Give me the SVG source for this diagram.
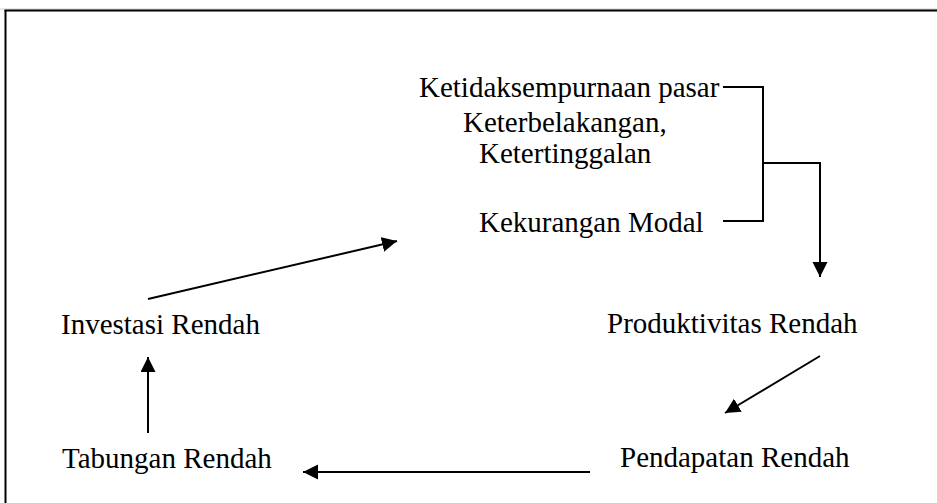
<svg xmlns="http://www.w3.org/2000/svg" width="937" height="504" viewBox="0 0 937 504">
<style>
text{font-family:"Liberation Serif","Times New Roman",serif;font-size:29px;fill:#000}
.c{stroke:#000;stroke-width:2;fill:none}
</style>
<defs>
<marker id="ah" markerUnits="userSpaceOnUse" markerWidth="16" markerHeight="16" refX="15" refY="7.5" orient="auto">
<path d="M0,0 L15,7.5 L0,15 z" fill="#000"/>
</marker>
</defs>
<rect width="937" height="504" fill="#fff"/>
<g id="frame">
<line x1="0" y1="9" x2="937" y2="9" stroke="#d0d0d0" stroke-width="1"/>
<line x1="0" y1="503.5" x2="937" y2="503.5" stroke="#d0d0d0" stroke-width="1"/>
<line x1="4.5" y1="10.5" x2="937" y2="10.5" stroke="#000" stroke-width="2"/>
<line x1="5.5" y1="10" x2="5.5" y2="503" stroke="#000" stroke-width="2"/>
</g>
<g id="node-causes">
<text x="419" y="97">Ketidaksempurnaan pasar</text>
<text x="463" y="132">Keterbelakangan,</text>
<text x="479" y="163">Ketertinggalan</text>
<text x="479" y="232">Kekurangan Modal</text>
</g>
<g id="node-produktivitas"><text x="607" y="333">Produktivitas Rendah</text></g>
<g id="node-pendapatan"><text x="620" y="467">Pendapatan Rendah</text></g>
<g id="node-tabungan"><text x="62" y="468">Tabungan Rendah</text></g>
<g id="node-investasi"><text x="61" y="334">Investasi Rendah</text></g>
<g id="connectors">
<polyline class="c" points="723,87 763,87 763,221 723,221"/>
<polyline class="c" points="763,163 820,163 820,277" marker-end="url(#ah)"/>
<line class="c" x1="148" y1="299" x2="397" y2="241" marker-end="url(#ah)"/>
<line class="c" x1="820" y1="356" x2="725" y2="413" marker-end="url(#ah)"/>
<line class="c" x1="590" y1="472" x2="303" y2="472" marker-end="url(#ah)"/>
<line class="c" x1="148" y1="433" x2="148" y2="357" marker-end="url(#ah)"/>
</g>
</svg>
